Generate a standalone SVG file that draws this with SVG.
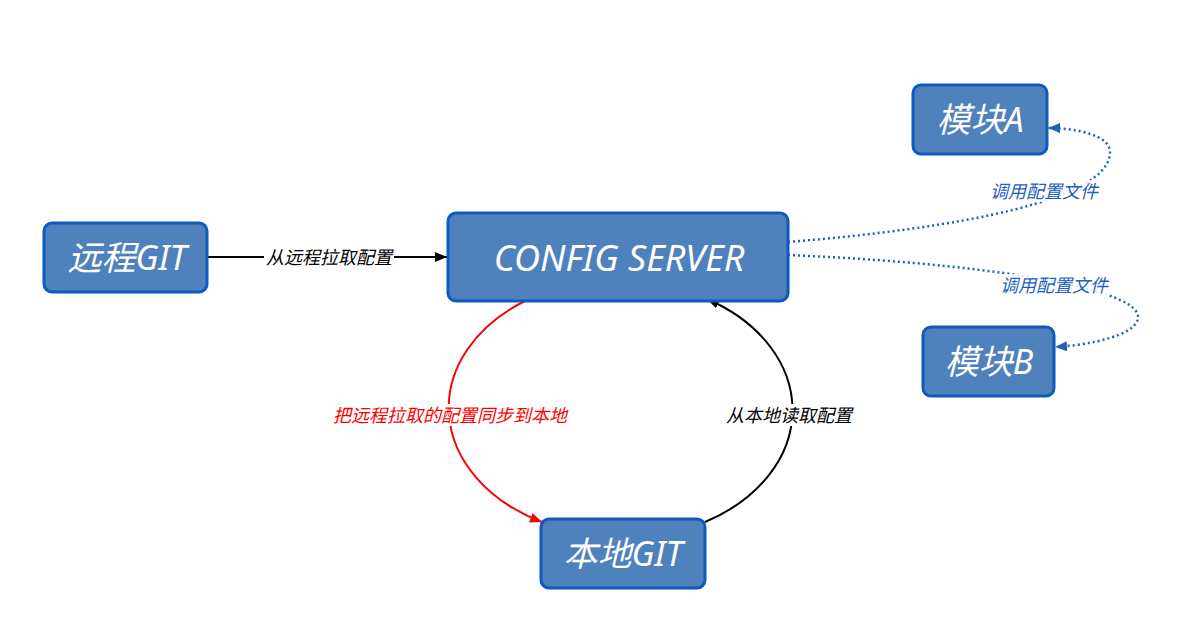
<svg xmlns="http://www.w3.org/2000/svg" width="1178" height="629" viewBox="0 0 1178 629">
<style>
.box{fill:#4f81bd;stroke:#0e5bbf;stroke-width:3}
.nt{fill:#fff;font-family:"Noto Sans","Noto Sans CJK SC",sans-serif;font-style:italic;text-anchor:middle;dominant-baseline:central}
.el{font-family:"Noto Sans","Noto Sans CJK SC",sans-serif;font-style:italic;font-size:18px;text-anchor:middle;dominant-baseline:central}
.bg{fill:#fff}
.dot{fill:none;stroke:#1f5fbf;stroke-width:2.5;stroke-dasharray:2 3}
</style>
<defs>
<marker id="ab" markerWidth="12" markerHeight="10" refX="12" refY="5" orient="auto" markerUnits="userSpaceOnUse"><path d="M0,0 L12,5 L0,10 Z" fill="#000"/></marker>
<marker id="ar" markerWidth="12" markerHeight="10" refX="12" refY="5" orient="auto" markerUnits="userSpaceOnUse"><path d="M0,0 L12,5 L0,10 Z" fill="#f00"/></marker>
<marker id="au" markerWidth="12" markerHeight="10" refX="12" refY="5" orient="auto" markerUnits="userSpaceOnUse"><path d="M0,0 L12,5 L0,10 Z" fill="#1f5fbf"/></marker>
</defs>
<rect width="1178" height="629" fill="#fff"/>
<g id="connectors">
<line x1="207" y1="257" x2="447" y2="257" stroke="#000" stroke-width="2" marker-end="url(#ab)"/>
<path d="M527,300 A170,128 0 0 0 542,522" fill="none" stroke="#f00" stroke-width="2" marker-end="url(#ar)"/>
<path d="M705,522 A170,128 0 0 0 707,299" fill="none" stroke="#000" stroke-width="2" marker-end="url(#ab)"/>
<path class="dot" d="M788,242 C960,228 1110,200 1110,152 C1110,135 1075,128 1048,128" marker-end="url(#au)"/>
<path class="dot" d="M788,255 C960,262 1138,285 1138,317 C1138,335 1090,345 1055,347" marker-end="url(#au)"/>
<rect class="bg" x="264" y="246" width="130" height="22"/>
<text class="el" x="329" y="257" fill="#000">从远程拉取配置</text>
<rect class="bg" x="332" y="404" width="237" height="22"/>
<text class="el" x="450" y="415" fill="#f00">把远程拉取的配置同步到本地</text>
<rect class="bg" x="724" y="404" width="130" height="22"/>
<text class="el" x="789" y="415" fill="#000">从本地读取配置</text>
<rect class="bg" x="989" y="180" width="110" height="22" opacity="0.85"/>
<text class="el" x="1044" y="191" fill="#1f5fbf">调用配置文件</text>
<rect class="bg" x="999" y="274" width="110" height="22" opacity="0.85"/>
<text class="el" x="1054" y="285" fill="#1f5fbf">调用配置文件</text>
</g>
<g id="remote-git"><rect class="box" x="44" y="223" width="163" height="69" rx="8"/><text class="nt" x="127" y="257" font-size="34">远程GIT</text></g>
<g id="config-server"><rect class="box" x="448" y="213" width="340" height="88" rx="8"/><text class="nt" x="619" y="257" font-size="36">CONFIG SERVER</text></g>
<g id="module-a"><rect class="box" x="913" y="85" width="134" height="69" rx="8"/><text class="nt" x="980" y="119" font-size="34">模块A</text></g>
<g id="module-b"><rect class="box" x="923" y="327" width="131" height="69" rx="8"/><text class="nt" x="989" y="361" font-size="34">模块B</text></g>
<g id="local-git"><rect class="box" x="541" y="519" width="164" height="69" rx="8"/><text class="nt" x="623" y="553" font-size="34">本地GIT</text></g>
</svg>
